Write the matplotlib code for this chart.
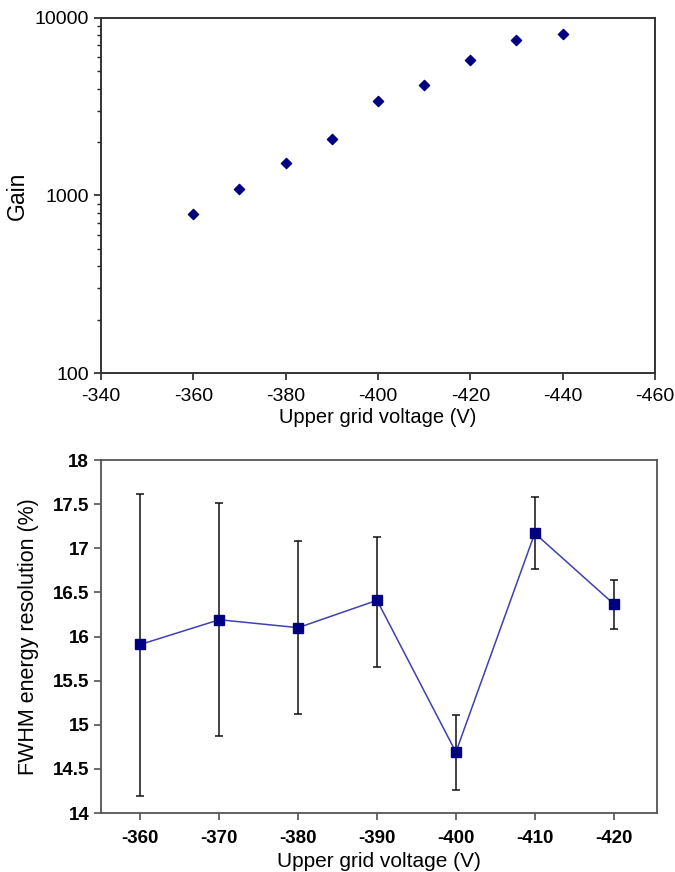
import numpy as np
import matplotlib
matplotlib.use("Agg")
import matplotlib.pyplot as plt
from matplotlib.ticker import LogLocator, NullFormatter

# gain vs upper grid voltage
gain_v = [-360, -370, -380, -390, -400, -410, -420, -430, -440]
gain = [783, 1088, 1520, 2093, 3414, 4169, 5794, 7480, 8085]

# FWHM energy resolution vs upper grid voltage
res_v = [-360, -370, -380, -390, -400, -410, -420]
res = [15.91, 16.19, 16.10, 16.41, 14.69, 17.17, 16.37]
res_hi = [17.61, 17.51, 17.08, 17.13, 15.11, 17.58, 16.64]
res_lo = [14.19, 14.87, 15.12, 15.66, 14.26, 16.76, 16.08]

plt.rcParams['font.family'] = ['Liberation Sans', 'DejaVu Sans']
plt.rcParams['axes.unicode_minus'] = False

fig = plt.figure(figsize=(6.75, 8.72), dpi=100)

# top panel
ax1 = fig.add_axes([101/675, 1-373/872, (655-101)/675, (373-18)/872])
ax1.scatter(gain_v, gain, marker='D', s=27, color='#000080', zorder=3)
ax1.set_yscale('log')
ax1.set_ylim(100, 10000)
ax1.set_xlim(-340, -460)
ax1.set_xticks(np.arange(-340, -461, -20))
ax1.set_yticks([100, 1000, 10000])
ax1.set_yticklabels(['100', '1000', '10000'])
ax1.yaxis.set_minor_locator(LogLocator(base=10, subs=np.arange(2, 10)))
ax1.yaxis.set_minor_formatter(NullFormatter())
ax1.tick_params(axis='both', which='major', direction='out', length=5, width=1.2,
                labelsize=14, color='#222222')
ax1.tick_params(axis='y', which='minor', direction='out', length=3, width=1, color='#222222')
ax1.tick_params(axis='x', pad=6)
for sp in ax1.spines.values():
    sp.set_linewidth(1.4)
    sp.set_color('#333333')
ax1.set_ylabel('Gain', fontsize=16.5, labelpad=4)
ax1.set_xlabel('Upper grid voltage (V)', fontsize=14.5, labelpad=2)

# bottom panel
ax2 = fig.add_axes([101/675, 1-813/872, (657-101)/675, (813-460)/872])
yerr = [np.array(res) - np.array(res_lo), np.array(res_hi) - np.array(res)]
ax2.errorbar(res_v, res, yerr=yerr, fmt='none', ecolor='#111111', elinewidth=1.1,
             capsize=3, capthick=1.1, zorder=2)
ax2.plot(res_v, res, color='#4040b0', lw=1.1, zorder=3)
ax2.plot(res_v, res, ls='none', marker='s', ms=7.5, color='#000080', zorder=4)
ax2.set_xlim(-355, -425.5)
ax2.set_ylim(14, 18)
ax2.set_xticks(res_v)
ax2.set_yticks(np.arange(14, 18.01, 0.5))
ax2.set_yticklabels(['14', '14.5', '15', '15.5', '16', '16.5', '17', '17.5', '18'])
for lab in ax2.get_xticklabels() + ax2.get_yticklabels():
    lab.set_family(['Liberation Sans Narrow', 'Liberation Sans', 'DejaVu Sans'])
    lab.set_fontweight('bold')
    lab.set_fontsize(13.5)
ax2.tick_params(axis='both', direction='out', length=5, width=1.1, color='#444444')
ax2.tick_params(axis='x', pad=7)
for sp in ax2.spines.values():
    sp.set_linewidth(1.3)
    sp.set_color('#555555')
ax2.set_ylabel('FWHM energy resolution (%)', fontsize=15.5, labelpad=10)
ax2.set_xlabel('Upper grid voltage (V)', fontsize=15, labelpad=4)

fig.savefig('out.png', dpi=100)
